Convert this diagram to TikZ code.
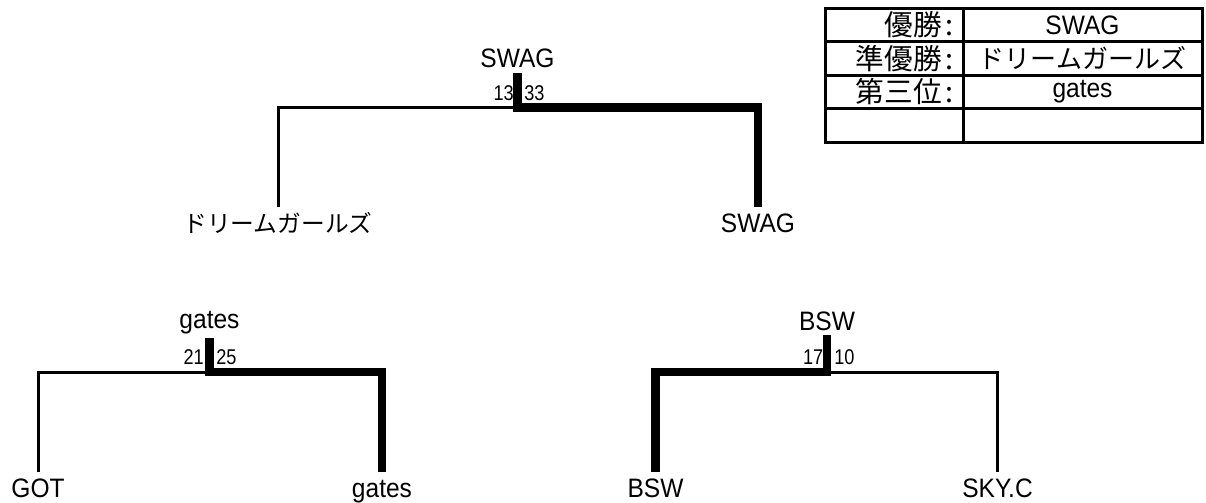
\documentclass[tikz,border=0pt]{standalone}
\usepackage{fontspec}
\setmainfont[FakeStretch=0.92]{Liberation Sans}
\newfontfamily\scorefont[FakeStretch=0.85]{Liberation Sans}
\newfontfamily\jpfont{Noto Sans CJK JP}
\usepackage{tikz}

\begin{document}
\begin{tikzpicture}[x=0.75pt, y=-0.75pt,
        team/.style={font=\fontsize{20}{22}\selectfont, anchor=base, inner sep=0pt},
        champ/.style={team, outer sep=3.5pt},
        leaf/.style={team, text height=14pt, outer sep=4.5pt},
        score/.style={font=\fontsize{16}{18}\selectfont\scorefont, inner sep=0pt},
        loser/.style={line width=2.25pt},
        winner/.style={line width=6.5pt},
        cell/.style={line width=2.25pt},
        head/.style={font=\fontsize{21.5}{23}\selectfont\jpfont, inner sep=0pt, anchor=east},
        result/.style={font=\fontsize{20}{22}\selectfont, inner sep=0pt}]
        \useasboundingbox (0,0) rectangle (1206,503);

        % final
        \node[champ] (w0) at (517.5,68) {SWAG};
        \coordinate (m0) at (517.5,107.5);
        \node[leaf] (dg) at (278,232) {\fontsize{17.8}{20}\selectfont\jpfont ドリームガールズ};
        \node[leaf] (sw) at (758,232) {SWAG};
        \node[score, anchor=base east] (s0a) at (514,100) {13};
        \node[score, anchor=base west] (s0b) at (524,100) {33};
        \draw[loser] (m0) -| (dg.north);
        \draw[winner] (w0.south) -- (m0) -| (sw.north);

        % semifinal left
        \node[champ] (w1) at (209.5,328) {gates};
        \coordinate (m1) at (209.5,372);
        \node[leaf] (got) at (38,497) {GOT};
        \node[leaf] (ga) at (382,497) {gates};
        \node[score, anchor=base east] (s1a) at (204,364) {21};
        \node[score, anchor=base west] (s1b) at (216,364) {25};
        \draw[loser] (m1) -| (got.north);
        \draw[winner] (w1.south) -- (m1) -| (ga.north);

        % semifinal right
        \node[champ] (w2) at (827,330) {BSW};
        \coordinate (m2) at (827,372);
        \node[leaf] (bsw) at (655.5,497) {BSW};
        \node[leaf] (sky) at (997.5,497) {SKY.C};
        \node[score, anchor=base east] (s2a) at (823.5,364) {17};
        \node[score, anchor=base west] (s2b) at (834,364) {10};
        \draw[loser] (m2) -| (sky.north);
        \draw[winner] (w2.south) -- (m2) -| (bsw.north);

        % result table
        \draw[cell] (825,8.5) rectangle (1202,142);
        \draw[cell] (963,8.5) -- (963,142);
        \foreach \y in {42,75.5,108.5}
            \draw[cell] (825,\y) -- (1202,\y);
        \node[head] (h1) at (954,25) {優勝\kern3pt:};
        \node[head] (h2) at (954,58.5) {準優勝\kern3pt:};
        \node[head] (h3) at (954,91.5) {第三位\kern3pt:};
        \node[result] (r1) at (1082.5,25) {SWAG};
        \node[result] (r2) at (1082.5,58.5) {\fontsize{19.5}{22}\selectfont\jpfont ドリームガールズ};
        \node[result] (r3) at (1082.5,91.5) {gates};
    \end{tikzpicture}
\end{document}
